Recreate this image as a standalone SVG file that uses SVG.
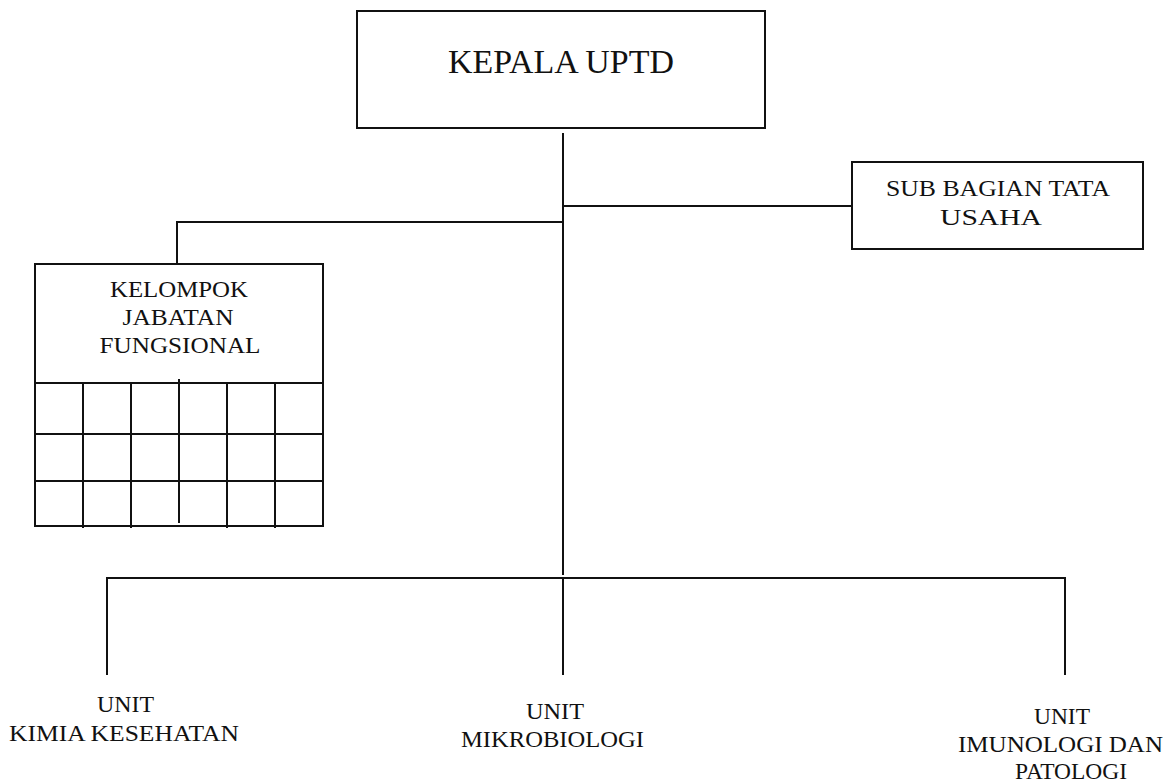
<svg xmlns="http://www.w3.org/2000/svg" width="1166" height="784" viewBox="0 0 1166 784">
<style>
.box{fill:#fff;stroke:#111;stroke-width:2}
.ln{stroke:#111;stroke-width:2;fill:none}
.t{font-family:"Liberation Serif","DejaVu Serif",serif;fill:#111;text-anchor:middle}
</style>
<rect width="1166" height="784" fill="#fff"/>
<g id="connectors">
<line class="ln" x1="563" y1="133" x2="563" y2="575"/>
<line class="ln" x1="563" y1="206" x2="852" y2="206"/>
<line class="ln" x1="177" y1="222" x2="563" y2="222"/>
<line class="ln" x1="177" y1="221" x2="177" y2="268"/>
<line class="ln" x1="107" y1="578" x2="1065" y2="578"/>
<line class="ln" x1="107" y1="577" x2="107" y2="675"/>
<line class="ln" x1="563" y1="578" x2="563" y2="675"/>
<line class="ln" x1="1065" y1="577" x2="1065" y2="675"/>
</g>
<g id="kepala">
<rect class="box" x="357" y="11" width="408" height="117"/>
<text class="t" x="561" y="73" font-size="33" textLength="226" lengthAdjust="spacingAndGlyphs">KEPALA UPTD</text>
</g>
<g id="subbagian">
<rect class="box" x="852" y="162" width="291" height="87"/>
<text class="t" x="998" y="196" font-size="24" textLength="224" lengthAdjust="spacingAndGlyphs">SUB BAGIAN TATA</text>
<text class="t" x="991" y="225" font-size="24" textLength="102" lengthAdjust="spacingAndGlyphs">USAHA</text>
</g>
<g id="kelompok">
<rect class="box" x="35" y="264" width="288" height="262"/>
<line class="ln" x1="35" y1="383" x2="323" y2="383"/>
<line class="ln" x1="35" y1="434" x2="323" y2="434"/>
<line class="ln" x1="35" y1="481" x2="323" y2="481"/>
<line class="ln" x1="83" y1="383" x2="83" y2="528"/>
<line class="ln" x1="131" y1="383" x2="131" y2="528"/>
<line class="ln" x1="179" y1="379" x2="179" y2="523"/>
<line class="ln" x1="227" y1="383" x2="227" y2="528"/>
<line class="ln" x1="275" y1="383" x2="275" y2="528"/>
<text class="t" x="179" y="297" font-size="23" textLength="138" lengthAdjust="spacingAndGlyphs">KELOMPOK</text>
<text class="t" x="178" y="325" font-size="23" textLength="111" lengthAdjust="spacingAndGlyphs">JABATAN</text>
<text class="t" x="180" y="353" font-size="23" textLength="161" lengthAdjust="spacingAndGlyphs">FUNGSIONAL</text>
</g>
<g id="unit-kimia">
<text class="t" x="125.5" y="712" font-size="24" textLength="57" lengthAdjust="spacingAndGlyphs">UNIT</text>
<text class="t" x="124" y="741" font-size="24" textLength="230" lengthAdjust="spacingAndGlyphs">KIMIA KESEHATAN</text>
</g>
<g id="unit-mikro">
<text class="t" x="555" y="719" font-size="24" textLength="58" lengthAdjust="spacingAndGlyphs">UNIT</text>
<text class="t" x="552.5" y="747" font-size="24" textLength="183" lengthAdjust="spacingAndGlyphs">MIKROBIOLOGI</text>
</g>
<g id="unit-imuno">
<text class="t" x="1062" y="724" font-size="24" textLength="56" lengthAdjust="spacingAndGlyphs">UNIT</text>
<text class="t" x="1060.5" y="752" font-size="24" textLength="205" lengthAdjust="spacingAndGlyphs">IMUNOLOGI DAN</text>
<text class="t" x="1071" y="779" font-size="24" textLength="112" lengthAdjust="spacingAndGlyphs">PATOLOGI</text>
</g>
</svg>
